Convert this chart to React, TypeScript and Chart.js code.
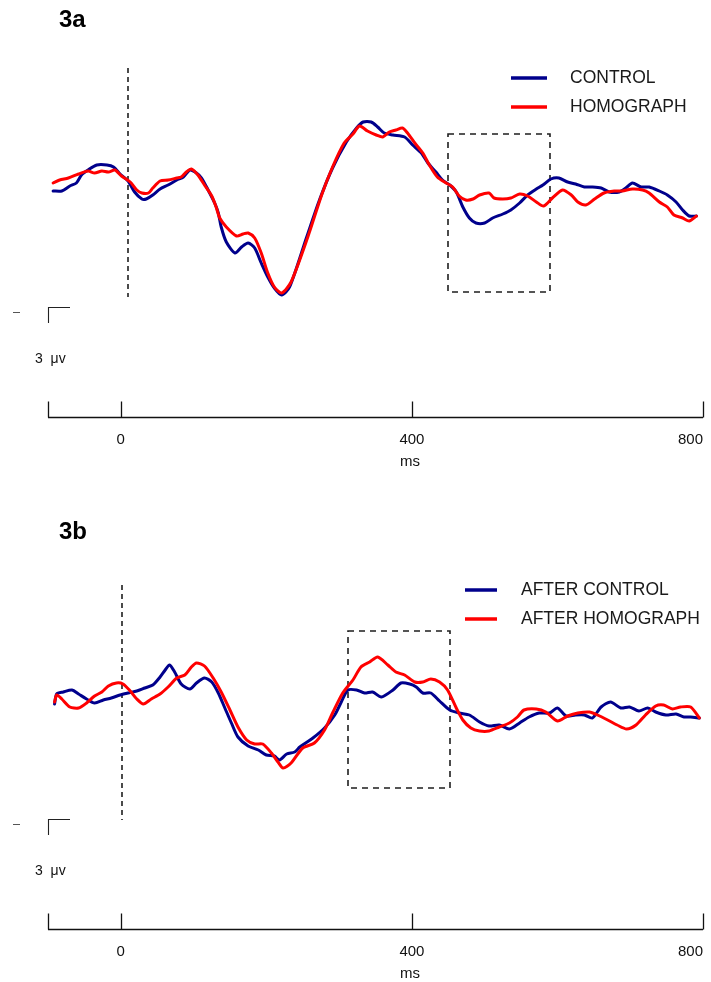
import React, { useEffect, useRef } from "react";
import { Chart, registerables } from "chart.js";

Chart.register(...registerables);

// ---------- axis / scale settings ----------
const X_MIN = -100;
const X_MAX = 800;
const X_TICKS = [0, 400, 800];
const X_LABEL = "ms";
const Y_MIN = -23.7;
const Y_MAX = 14;
const SCALE_LABEL = "3  \u03bcv";

// ---------- panel 3a ----------
const aTitle = "3a";
const aLegend = ["CONTROL", "HOMOGRAPH"];
const aCtrlMs = [-93,-81,-70,-61,-54,-45,-33,-19,-10,-1,10,19,29,35,44,54,65,77,86,95,104,111,120,129,134,138,145,157,166,175,184,193,202,211,221,232,255,273,291,310,324,333,344,353,362,374,390,401,413,422,433,442,452,461,470,479,488,500,511,525,536,548,559,571,580,591,602,614,625,637,648,660,671,685,694,703,715,726,740,751,763,772,781,791];
const aCtrlUv = [-1.1,-1.1,-0.6,-0.3,0.5,1.0,1.5,1.5,1.3,0.6,-0.1,-1.2,-1.9,-1.9,-1.5,-0.9,-0.5,0.0,0.3,1.0,0.7,0.2,-1.0,-2.3,-3.3,-4.7,-6.2,-7.3,-6.7,-6.3,-6.8,-8.3,-9.7,-10.8,-11.5,-10.7,-5.8,-2.0,1.2,3.8,5.2,5.8,5.8,5.3,4.7,4.5,4.3,3.5,2.7,1.7,0.8,0.0,-0.5,-1.2,-2.7,-3.8,-4.3,-4.3,-3.8,-3.4,-3.0,-2.3,-1.5,-0.9,-0.5,0.1,0.2,-0.2,-0.4,-0.7,-0.7,-0.8,-1.2,-1.2,-0.8,-0.3,-0.7,-0.7,-1.1,-1.5,-2.2,-3.0,-3.6,-3.6];
const aHomMs = [-93,-84,-72,-58,-45,-36,-26,-17,-8,1,13,22,29,38,44,54,65,77,83,90,97,106,115,125,131,136,145,159,168,175,184,193,202,211,221,234,257,276,291,307,319,328,339,351,360,369,378,387,394,404,415,424,435,447,456,465,474,484,493,506,513,525,536,548,559,571,581,593,607,619,628,639,651,664,678,689,703,717,726,740,751,760,772,781,791];
const aHomUv = [-0.3,0.0,0.2,0.6,0.9,0.7,0.9,0.8,1.0,0.4,-0.2,-1.0,-1.3,-1.3,-0.8,-0.1,0.0,0.2,0.3,0.8,1.1,0.5,-0.5,-1.6,-2.7,-3.8,-4.7,-5.6,-5.4,-5.3,-5.8,-7.3,-9.3,-10.7,-11.3,-10.2,-5.7,-1.5,1.3,3.7,4.6,5.4,4.9,4.5,4.3,4.8,5.0,5.2,4.7,3.7,2.7,1.5,0.3,-0.3,-0.7,-1.6,-2.0,-1.9,-1.5,-1.3,-1.8,-1.9,-1.8,-1.4,-1.6,-2.2,-2.6,-1.8,-1.0,-1.5,-2.2,-2.5,-1.9,-1.3,-1.1,-1.1,-0.9,-1.0,-1.3,-2.2,-2.7,-3.5,-3.8,-4.1,-3.6];
const aOnset = [10, 11.2, -11.7]; // ms, top uV, bottom uV
const aBox = [450, 590, 4.6, -11.2]; // ms from, ms to, uV top, uV bottom

// ---------- panel 3b ----------
const bTitle = "3b";
const bLegend = ["AFTER CONTROL", "AFTER HOMOGRAPH"];
const bCtrlMs = [-91,-88,-79,-67,-58,-47,-36,-24,-13,-1,10,22,33,44,54,61,67,74,83,95,104,115,125,134,143,152,161,175,189,200,211,218,228,239,246,264,280,294,303,312,324,335,346,358,374,385,397,406,415,426,438,452,465,479,493,506,520,534,548,561,575,589,600,612,625,637,648,660,673,687,699,712,724,735,749,763,774,783,795];
const bCtrlUv = [-1.2,-0.2,0.0,0.2,-0.2,-0.7,-1.1,-0.8,-0.6,-0.3,-0.1,0.1,0.4,0.7,1.5,2.2,2.7,2.0,0.8,0.3,0.9,1.4,1.0,-0.1,-1.6,-3.1,-4.5,-5.4,-5.8,-6.3,-6.4,-6.8,-6.2,-6.0,-5.5,-4.6,-3.6,-2.3,-1.0,0.2,0.2,-0.1,0.0,-0.5,0.2,0.9,0.8,0.5,-0.1,-0.1,-0.9,-1.8,-2.1,-2.3,-3.0,-3.4,-3.3,-3.7,-3.1,-2.5,-2.1,-2.1,-1.6,-2.4,-2.3,-2.3,-2.6,-1.5,-1.0,-1.6,-1.5,-1.9,-1.6,-2.0,-2.3,-2.2,-2.5,-2.5,-2.6];
const bHomMs = [-91,-88,-81,-70,-58,-47,-36,-26,-17,-6,3,13,22,31,42,54,65,77,88,97,104,115,127,138,150,161,173,184,195,207,216,223,234,250,266,280,291,305,319,330,342,353,367,378,390,404,415,426,438,449,461,470,481,493,506,520,534,545,554,571,584,600,614,628,644,655,669,682,695,708,721,735,746,758,769,783,795];
const bHomUv = [-1.0,-0.3,-0.7,-1.5,-1.6,-1.1,-0.4,0.0,0.6,0.9,0.8,0.1,-0.7,-1.2,-0.7,-0.2,0.5,1.4,1.7,2.5,2.9,2.6,1.4,0.0,-1.8,-3.5,-4.8,-5.2,-5.2,-6.1,-7.0,-7.6,-7.1,-5.6,-5.1,-3.8,-2.1,-0.1,1.2,2.5,3.0,3.5,2.7,2.0,1.7,1.0,1.0,1.3,1.0,0.2,-1.6,-2.8,-3.6,-3.9,-3.9,-3.5,-3.1,-2.5,-1.8,-1.7,-2.0,-2.9,-2.4,-2.1,-2.0,-2.3,-2.8,-3.3,-3.7,-3.3,-2.3,-1.4,-1.3,-1.7,-1.5,-1.5,-2.6];
const bOnset = [2, 10.7, -12.8];
const bBox = [312, 452, 6.1, -9.6];

const BLUE = "#00008c";
const RED = "#ff0000";
const FONT = '"Liberation Sans", Arial, Helvetica, sans-serif';
const W = 711;

type PanelCfg = {
  title: string;
  legend: string[];
  legendLineX: [number, number];
  legendTextX: number;
  ctrlMs: number[];
  ctrlUv: number[];
  homMs: number[];
  homUv: number[];
  onset: number[];
  box: number[];
  height: number;
  top: number;
};

function makeDecor(cfg: PanelCfg) {
  return {
    id: "erpDecor",
    beforeDatasetsDraw(chart: any) {
      const { ctx } = chart;
      const xs = chart.scales.x;
      const ys = chart.scales.y;
      ctx.save();
      ctx.strokeStyle = "#1e1e1e";
      ctx.lineWidth = 1.6;
      // onset marker
      ctx.setLineDash([5, 4]);
      const mx = Math.round(xs.getPixelForValue(cfg.onset[0]));
      ctx.beginPath();
      ctx.moveTo(mx, ys.getPixelForValue(cfg.onset[1]));
      ctx.lineTo(mx, ys.getPixelForValue(cfg.onset[2]));
      ctx.stroke();
      // analysis window
      ctx.setLineDash([6, 5]);
      const bx0 = Math.round(xs.getPixelForValue(cfg.box[0]));
      const bx1 = Math.round(xs.getPixelForValue(cfg.box[1]));
      const by0 = Math.round(ys.getPixelForValue(cfg.box[2]));
      const by1 = Math.round(ys.getPixelForValue(cfg.box[3]));
      ctx.strokeRect(bx0, by0, bx1 - bx0, by1 - by0);
      ctx.restore();
    },
    afterDraw(chart: any) {
      const { ctx, chartArea } = chart;
      const xs = chart.scales.x;
      const ys = chart.scales.y;
      const left = chartArea.left;
      const axisY = chartArea.bottom + 0.5;
      ctx.save();
      ctx.setLineDash([]);
      // x axis
      ctx.strokeStyle = "#111";
      ctx.lineWidth = 1.3;
      ctx.beginPath();
      ctx.moveTo(left, axisY);
      ctx.lineTo(chartArea.right, axisY);
      const tickVals = [X_MIN, ...X_TICKS];
      tickVals.forEach((v) => {
        const px = Math.round(xs.getPixelForValue(v)) + 0.5;
        ctx.moveTo(px, axisY);
        ctx.lineTo(px, axisY - 16);
      });
      ctx.stroke();
      // tick labels
      ctx.fillStyle = "#111";
      ctx.font = `15px ${FONT}`;
      ctx.textAlign = "center";
      ctx.textBaseline = "alphabetic";
      X_TICKS.forEach((v) => {
        const label = String(v);
        const w = ctx.measureText(label).width;
        let px = xs.getPixelForValue(v);
        px = Math.min(px, W - w / 2 - 8);
        ctx.fillText(label, px, axisY + 26);
      });
      ctx.fillText(X_LABEL, xs.getPixelForValue(400) - 2, axisY + 48);

      // scale bar
      const sbTop = Math.round(ys.getPixelForValue(-12.7)) + 0.5;
      const sbBot = ys.getPixelForValue(-14.3);
      ctx.lineWidth = 1.1;
      ctx.strokeStyle = "#222";
      ctx.beginPath();
      ctx.moveTo(left + 0.5, sbBot);
      ctx.lineTo(left + 0.5, sbTop);
      ctx.lineTo(left + 22, sbTop);
      ctx.stroke();
      ctx.strokeStyle = "#555";
      ctx.lineWidth = 1;
      ctx.beginPath();
      const mY = Math.round(ys.getPixelForValue(-13.2)) + 0.5;
      ctx.moveTo(13, mY);
      ctx.lineTo(20, mY);
      ctx.stroke();
      ctx.font = `14px ${FONT}`;
      ctx.textAlign = "left";
      ctx.fillStyle = "#111";
      ctx.fillText(SCALE_LABEL, 35, ys.getPixelForValue(-18.3));

      // title
      ctx.font = `bold 24px ${FONT}`;
      ctx.fillStyle = "#000";
      ctx.fillText(cfg.title, 59, 27);

      // legend
      const colors = [BLUE, RED];
      ctx.font = `17.5px ${FONT}`;
      ctx.textBaseline = "middle";
      cfg.legend.forEach((lab, i) => {
        const ly = 78 + i * 29;
        ctx.strokeStyle = colors[i];
        ctx.lineWidth = 3.5;
        ctx.beginPath();
        ctx.moveTo(cfg.legendLineX[0], ly);
        ctx.lineTo(cfg.legendLineX[1], ly);
        ctx.stroke();
        ctx.fillStyle = "#1a1a1a";
        ctx.fillText(lab, cfg.legendTextX, ly);
      });
      ctx.restore();
    },
  };
}

function ErpPanel({ cfg }: { cfg: PanelCfg }) {
  const ref = useRef<HTMLCanvasElement>(null);
  useEffect(() => {
    const toPts = (ms: number[], uv: number[]) => ms.map((t, i) => ({ x: t, y: uv[i] }));
    const chart = new Chart(ref.current as HTMLCanvasElement, {
      type: "line",
      data: {
        datasets: [
          {
            label: cfg.legend[0],
            data: toPts(cfg.ctrlMs, cfg.ctrlUv),
            borderColor: BLUE,
            borderWidth: 3,
            pointRadius: 0,
            tension: 0.25,
            fill: false,
            order: 2,
            borderJoinStyle: "round",
            borderCapStyle: "round",
          },
          {
            label: cfg.legend[1],
            data: toPts(cfg.homMs, cfg.homUv),
            borderColor: RED,
            borderWidth: 3,
            pointRadius: 0,
            tension: 0.25,
            fill: false,
            order: 1,
            borderJoinStyle: "round",
            borderCapStyle: "round",
          },
        ],
      },
      options: {
        responsive: false,
        animation: false,
        devicePixelRatio: 1,
        layout: { padding: { left: 48, right: 8, top: 40, bottom: cfg.height - 417 } },
        scales: {
          x: { type: "linear", min: X_MIN, max: X_MAX, display: false },
          y: { type: "linear", min: Y_MIN, max: Y_MAX, display: false },
        },
        plugins: { legend: { display: false }, tooltip: { enabled: false } },
      },
      plugins: [makeDecor(cfg)],
    } as any);
    return () => chart.destroy();
  }, [cfg]);
  return (
    <canvas
      ref={ref}
      width={W}
      height={cfg.height}
      style={{ position: "absolute", left: 0, top: cfg.top, width: W, height: cfg.height, display: "block" }}
    />
  );
}

const panelA: PanelCfg = {
  title: aTitle,
  legend: aLegend,
  legendLineX: [511, 547],
  legendTextX: 570,
  ctrlMs: aCtrlMs,
  ctrlUv: aCtrlUv,
  homMs: aHomMs,
  homUv: aHomUv,
  onset: aOnset,
  box: aBox,
  height: 512,
  top: 0,
};

const panelB: PanelCfg = {
  title: bTitle,
  legend: bLegend,
  legendLineX: [465, 497],
  legendTextX: 521,
  ctrlMs: bCtrlMs,
  ctrlUv: bCtrlUv,
  homMs: bHomMs,
  homUv: bHomUv,
  onset: bOnset,
  box: bBox,
  height: 470,
  top: 512,
};

export default function App() {
  return (
    <div style={{ position: "absolute", left: 0, top: 0, width: W, height: 982, background: "#fff" }}>
      <ErpPanel cfg={panelA} />
      <ErpPanel cfg={panelB} />
    </div>
  );
}
